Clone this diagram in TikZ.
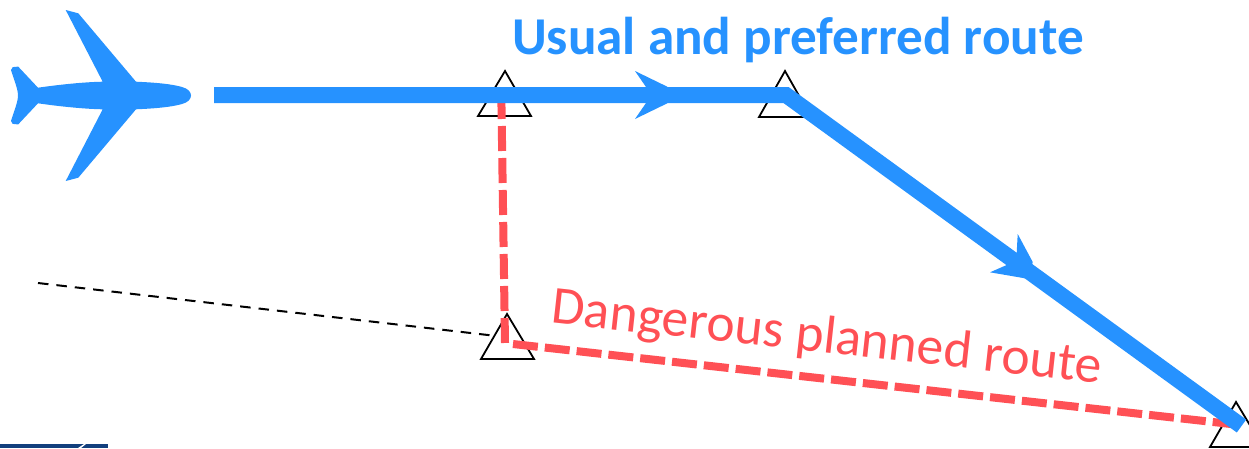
\documentclass[tikz,border=0pt]{standalone}
\usepackage{fontspec}
\setmainfont{Carlito}
\definecolor{bluer}{HTML}{2692FF}
\definecolor{redr}{HTML}{FF5055}
\definecolor{logob}{HTML}{123F7D}
\tikzset{
  wp/.style={draw=black,line width=1.8pt,line join=miter,fill=none},
  blueroute/.style={draw=bluer,line width=16pt,line join=miter},
  redroute/.style={draw=redr,line width=8pt,dash pattern=on 25pt off 7pt},
  guide/.style={draw=black,line width=2pt,dash pattern=on 10.5pt off 8pt},
  barb/.style={fill=bluer,draw=none},
}
\begin{document}
\begin{tikzpicture}[x=1pt,y=-1pt]
\useasboundingbox (0,0) rectangle (1249,448);
% logo fragment
\fill[logob] (0,444) rectangle (108,448);
\fill[white] (78,448) -- (84,444) -- (86,444) -- (81,448) -- cycle;
% coordinates
\coordinate (start) at (214,95);
\coordinate (knee) at (786,95);
\coordinate (endp) at (1241.5,426);
\coordinate (w1) at (501.3,94);
\coordinate (w2) at (505,343);
\coordinate (w3) at (513,344);
\coordinate (w4) at (1240,425);
\coordinate (g0) at (38,283);
\coordinate (g1) at (494,335.7);
% triangles
\draw[wp] (505,71) -- (531,116) -- (478,116) -- cycle;
\draw[wp] (785,71) -- (811,117) -- (759,117) -- cycle;
\draw[wp] (507,314) -- (534,359) -- (481,359) -- cycle;
\draw[wp] (1236,402) -- (1263,447) -- (1210,447) -- cycle;
% guide
\draw[guide] (g0) -- (g1);
% red route
\draw[redroute] (w1) -- (w2);
\draw[redroute] (w3) -- (w4);
% blue
\draw[blueroute] (start) -- (knee) -- (endp);
\fill[barb] (635,71) -- (667.3,86.7) -- (667.3,103.3) -- (635,119) -- (646,103) -- (646,87) -- cycle;
\fill[barb] (1017.7,234) -- (1032.7,262) -- (1029,279) -- (990,272.3) -- (1006.7,265) -- (1016.7,252.7) -- cycle;
% plane
\fill[bluer] (18,95.5) .. controls (18,89) and (14,80) .. (11,70)
  .. controls (11,67) and (13,66.7) .. (18.3,66.7) -- (38,87.7)
  .. controls (60,84.5) and (85,82) .. (102.7,81.7) -- (65.7,10) -- (78.3,13.3) -- (136,81.7)
  .. controls (155,82.5) and (172,84) .. (182,87) .. controls (194,90) and (194,101) .. (182,104)
  .. controls (172,107) and (155,108.5) .. (136,109.3) -- (78.3,177.7) -- (65.7,181) -- (102.7,109.3)
  .. controls (85,109) and (60,106.5) .. (38,103.3) -- (18.3,124.3)
  .. controls (13,124.3) and (11,124) .. (11,121) .. controls (14,111) and (18,102) .. (18,95.5) -- cycle;
% labels
\node[text=bluer,font=\fontsize{53.2}{53.2}\selectfont\bfseries,inner sep=0pt,anchor=center] (t1) at (798,40) {Usual and preferred route};
\node[text=redr,font=\fontsize{53.6}{53.6}\selectfont,inner sep=0pt,anchor=center,rotate=-6.3] (t2) at (826.5,339) {Dangerous planned route};
\end{tikzpicture}
\end{document}
